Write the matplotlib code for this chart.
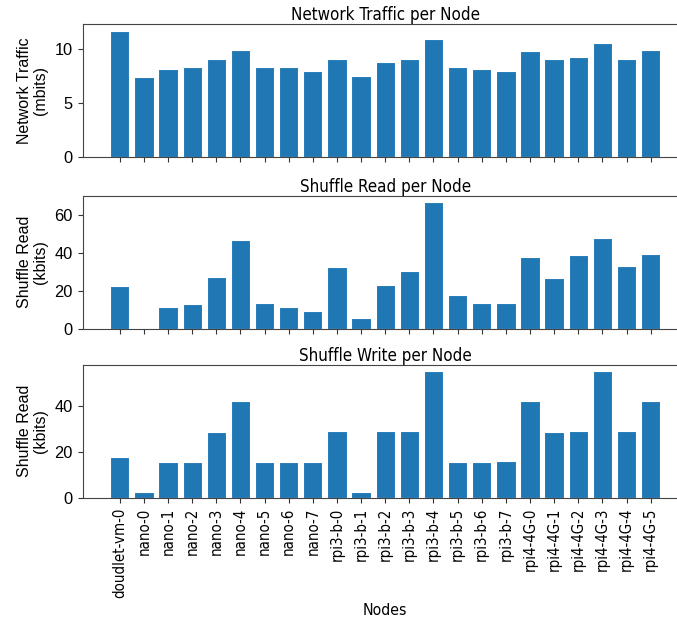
import matplotlib.pyplot as plt

nodes = ["doudlet-vm-0",
         "nano-0", "nano-1", "nano-2", "nano-3", "nano-4", "nano-5", "nano-6", "nano-7",
         "rpi3-b-0", "rpi3-b-1", "rpi3-b-2", "rpi3-b-3", "rpi3-b-4", "rpi3-b-5", "rpi3-b-6", "rpi3-b-7",
         "rpi4-4G-0", "rpi4-4G-1", "rpi4-4G-2", "rpi4-4G-3", "rpi4-4G-4", "rpi4-4G-5"]

# mbits
network_traffic = [11.7, 7.42, 8.18, 8.3, 9.05, 9.94, 8.3, 8.3, 7.94,
                   9.05, 7.54, 8.8, 9.05, 10.92, 8.3, 8.18, 7.94,
                   9.78, 9.05, 9.29, 10.55, 9.05, 9.94]

# kbits
shuffle_read = [22.4, 0.0, 11.6, 13.0, 27.5, 46.8, 13.6, 11.6, 9.3,
                32.4, 5.8, 23.2, 30.3, 66.9, 18.0, 13.6, 13.6,
                38.0, 26.8, 38.9, 48.1, 33.1, 39.4]

# kbits
shuffle_write = [17.8, 2.5, 15.4, 15.4, 28.4, 42.0, 15.4, 15.4, 15.4,
                 29.0, 2.5, 29.0, 29.0, 55.1, 15.4, 15.4, 15.9,
                 42.0, 28.4, 29.0, 55.1, 29.0, 42.0]

titles = ["Network Traffic per Node", "Shuffle Read per Node", "Shuffle Write per Node"]
ylabels = ["Network Traffic\n(mbits)", "Shuffle Read\n(kbits)", "Shuffle Read\n(kbits)"]
series = [network_traffic, shuffle_read, shuffle_write]

LABEL_FONT = "Liberation Sans"
TITLE_FONT = "DejaVu Sans"

fig = plt.figure(figsize=(6.77, 6.24), dpi=100)

# axes positions (the right side runs past the canvas edge, like the reference)
bottoms = [0.748, 0.4732, 0.2024]
axes = []
for bottom in bottoms:
    axes.append(fig.add_axes([0.122, bottom, 0.894, 0.2131]))

for i, ax in enumerate(axes):
    ax.bar(nodes, series[i], color="#1f77b4", edgecolor="white", linewidth=0.8)
    ax.set_title(titles[i], fontsize=12.2, family=TITLE_FONT, stretch="condensed", pad=3)
    ax.set_ylabel(ylabels[i], fontsize=11.5, family=LABEL_FONT, linespacing=1.05, labelpad=5)
    for lbl in ax.get_yticklabels():
        lbl.set_family(LABEL_FONT)
        lbl.set_fontsize(11.8)
    for spine in ax.spines.values():
        spine.set_color("#444444")
    ax.tick_params(colors="#333333", labelcolor="black")
    if i < 2:
        ax.set_xticklabels([])
    else:
        ax.tick_params(axis="x", labelrotation=90)
        for lbl in ax.get_xticklabels():
            lbl.set_family(TITLE_FONT)
            lbl.set_stretch("condensed")
            lbl.set_fontsize(10.8)
        ax.set_xlabel("Nodes", fontsize=11.3, family=TITLE_FONT, stretch="condensed")

plt.savefig("out.png", dpi=100)
